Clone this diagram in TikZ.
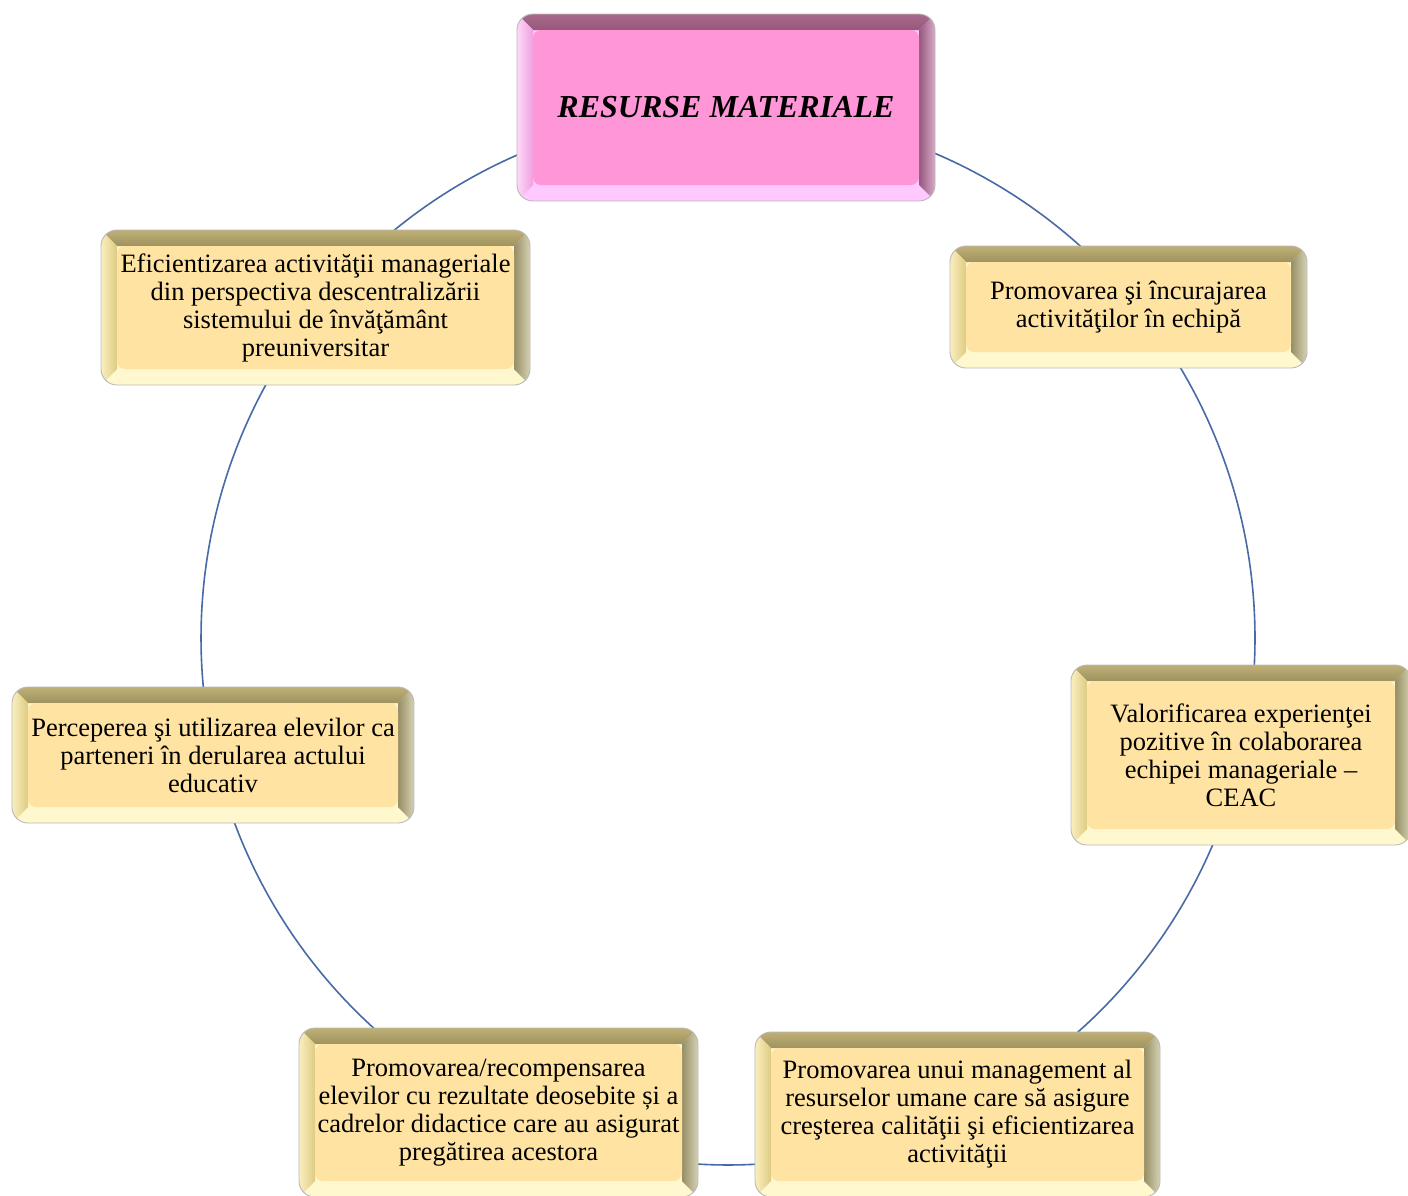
\documentclass[tikz,border=0pt]{standalone}
\usepackage{fontspec}
\setmainfont{Liberation Serif}
\usetikzlibrary{calc}
\definecolor{conncol}{RGB}{72,106,165}
\definecolor{framecol}{RGB}{185,185,185}
\definecolor{Yface}{RGB}{255,227,162}
\definecolor{YtopA}{RGB}{190,176,118}
\definecolor{YtopB}{RGB}{160,146,94}
\definecolor{YleftA}{RGB}{250,238,190}
\definecolor{YleftB}{RGB}{222,204,130}
\definecolor{YrightA}{RGB}{150,142,100}
\definecolor{YrightB}{RGB}{214,210,180}
\definecolor{Ybot}{RGB}{255,247,205}
\definecolor{Pface}{RGB}{255,150,216}
\definecolor{PtopA}{RGB}{170,105,140}
\definecolor{PtopB}{RGB}{150,88,122}
\definecolor{PleftA}{RGB}{255,215,250}
\definecolor{PleftB}{RGB}{238,160,222}
\definecolor{PrightA}{RGB}{150,88,125}
\definecolor{PrightB}{RGB}{215,170,200}
\definecolor{Pbot}{RGB}{255,200,255}
\tikzset{
  conn/.style={draw=conncol, line width=1.6pt},
  frame/.style={draw=framecol, line width=0.9pt},
  face/.style={inner sep=0pt, rounded corners=8, align=center,
    font=\fontsize{26.5}{28}\selectfont},
}
\newcommand\bevbox[7]{%
  \begin{scope}
    \clip[rounded corners=16] (#2,#3) rectangle (#4,#5);
    \fill[#6bot] (#2,#3) rectangle (#4,#5);
    \shade[top color=#6topA, bottom color=#6topB]
      (#2,#3) -- (#4,#3) -- ({#4-16},{#3+16}) -- ({#2+16},{#3+16}) -- cycle;
    \shade[left color=#6leftA, right color=#6leftB]
      (#2,#3) -- ({#2+16},{#3+16}) -- ({#2+16},{#5-16}) -- (#2,#5) -- cycle;
    \shade[left color=#6rightA, right color=#6rightB]
      (#4,#3) -- ({#4-16},{#3+16}) -- ({#4-16},{#5-16}) -- (#4,#5) -- cycle;
  \end{scope}
  \draw[frame, rounded corners=16] (#2,#3) rectangle (#4,#5);
  \node[face, fill=#6face, minimum width={#4-#2-32}, minimum height={#5-#3-32}]
    (#1) at ({(#2+#4)/2},{(#3+#5)/2}) {#7};
}
\begin{document}
\begin{tikzpicture}[x=1pt, y=-1pt]
\useasboundingbox (0,0) rectangle (1408,1195);
\fill[white] (0,0) rectangle (1408,1195);
\coordinate (c) at (728,638);
% connectors (arcs of the ring, from box to box)
\draw[conn] ($(c)+(-90:527)$) arc[start angle=-90, end angle=-39.6, radius=527];
\draw[conn] ($(c)+(-39.6:527)$) arc[start angle=-39.6, end angle=12.9, radius=527];
\draw[conn] ($(c)+(12.9:527)$) arc[start angle=12.9, end angle=64.3, radius=527];
\draw[conn] ($(c)+(64.3:527)$) arc[start angle=64.3, end angle=115.9, radius=527];
\draw[conn] ($(c)+(115.9:527)$) arc[start angle=115.9, end angle=167.2, radius=527];
\draw[conn] ($(c)+(167.2:527)$) arc[start angle=167.2, end angle=218.7, radius=527];
\draw[conn] ($(c)+(218.7:527)$) arc[start angle=218.7, end angle=270, radius=527];
% boxes
\bevbox{top}{517}{14}{935}{201}{P}{\fontsize{32}{36}\selectfont\bfseries\itshape RESURSE MATERIALE}
\bevbox{tl}{101}{230}{530}{385}{Y}{Eficientizarea activităţii manageriale\\din perspectiva descentralizării\\sistemului de învăţământ\\preuniversitar}
\bevbox{tr}{950}{246}{1307}{368}{Y}{Promovarea şi încurajarea\\activităţilor în echipă}
\bevbox{r}{1071}{665}{1411}{845}{Y}{Valorificarea experienţei\\pozitive în colaborarea\\echipei manageriale --\\CEAC}
\bevbox{br}{755}{1032}{1160}{1197}{Y}{Promovarea unui management al\\resurselor umane care să asigure\\creşterea calităţii şi eficientizarea\\activităţii}
\bevbox{bl}{299}{1028}{698}{1197}{Y}{Promovarea/recompensarea\\elevilor cu rezultate deosebite și a\\cadrelor didactice care au asigurat\\pregătirea acestora}
\bevbox{l}{12}{687}{414}{823}{Y}{Perceperea şi utilizarea elevilor ca\\parteneri în derularea actului\\educativ}
\end{tikzpicture}
\end{document}
